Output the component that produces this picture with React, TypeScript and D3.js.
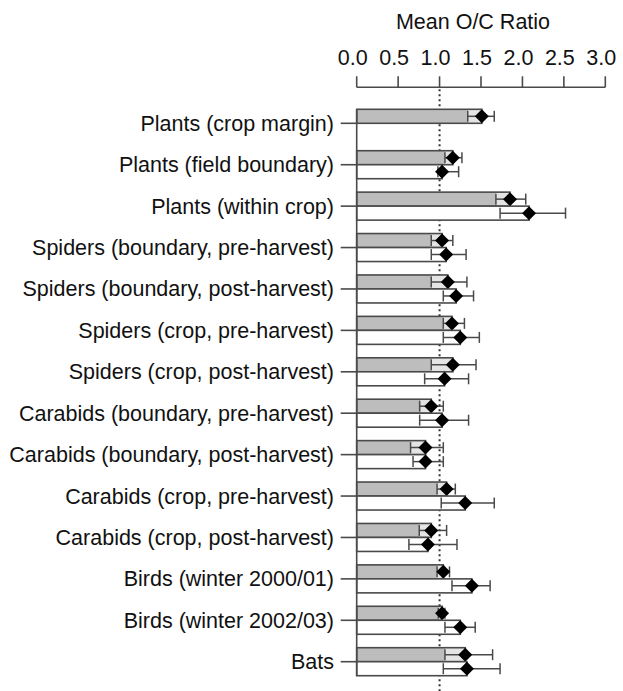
import React from "react";
import * as d3 from "d3";

// Categories, top to bottom
const categories = [
  "Plants (crop margin)",
  "Plants (field boundary)",
  "Plants (within crop)",
  "Spiders (boundary, pre-harvest)",
  "Spiders (boundary, post-harvest)",
  "Spiders (crop, pre-harvest)",
  "Spiders (crop, post-harvest)",
  "Carabids (boundary, pre-harvest)",
  "Carabids (boundary, post-harvest)",
  "Carabids (crop, pre-harvest)",
  "Carabids (crop, post-harvest)",
  "Birds (winter 2000/01)",
  "Birds (winter 2002/03)",
  "Bats",
];

// Shaded series: mean ratio with lower / upper interval bounds
const shadedMean = [1.51, 1.16, 1.85, 1.03, 1.1, 1.15, 1.16, 0.9, 0.83, 1.085, 0.9, 1.045, 1.03, 1.31];
const shadedLo = [1.34, 1.065, 1.68, 0.9, 0.9, 1.045, 0.9, 0.76, 0.65, 0.97, 0.755, 0.97, 0.985, 1.065];
const shadedHi = [1.66, 1.27, 2.04, 1.16, 1.33, 1.3, 1.44, 1.045, 1.045, 1.19, 1.085, 1.12, 1.065, 1.64];

// Open series (no value for the first category)
const openMean = [null, 1.03, 2.08, 1.08, 1.2, 1.25, 1.06, 1.03, 0.83, 1.31, 0.86, 1.39, 1.25, 1.33];
const openLo = [null, 0.98, 1.73, 0.9, 1.045, 1.045, 0.82, 0.76, 0.68, 1.02, 0.63, 1.15, 1.065, 1.045];
const openHi = [null, 1.23, 2.52, 1.32, 1.41, 1.48, 1.35, 1.35, 1.045, 1.66, 1.21, 1.61, 1.43, 1.73];

const xTicks = [0, 0.5, 1, 1.5, 2, 2.5, 3];
const axisTitle = "Mean O/C Ratio";

const W = 623;
const H = 691;
const FONT = "'Liberation Sans', Arial, Helvetica, sans-serif";
const FS = 21.5;
const LINE = "#4a4a4a";
const BAR_H = 14;

export default function App() {
  const x = d3.scaleLinear().domain([0, 3]).range([356.7, 605.3]);
  const y = d3.scalePoint<string>().domain(categories).range([123.3, 661.7]);
  const axisY = 87.3;
  const x0 = x(0);

  const diamond = (cx: number, cy: number, r = 7) =>
    `M${cx},${cy - r}L${cx + r},${cy}L${cx},${cy + r}L${cx - r},${cy}Z`;

  const renderBar = (
    key: string,
    top: number,
    mean: number,
    lo: number,
    hi: number,
    fill: string,
    inner: string
  ) => {
    const cy = top + BAR_H / 2;
    const xm = x(mean);
    const xl = x(lo);
    const xh = x(hi);
    return (
      <g key={key}>
        <rect x={x0} y={top} width={xm - x0} height={BAR_H} fill={fill} stroke="none" />
        {xl < xm && (
          <rect x={xl} y={top} width={xm - xl} height={BAR_H} fill={inner} stroke="none" />
        )}
        <rect x={x0} y={top} width={xm - x0} height={BAR_H} fill="none" stroke={LINE} strokeWidth={1.6} />
        <line x1={xl} x2={xh} y1={cy} y2={cy} stroke={LINE} strokeWidth={1.5} />
        <line x1={xl} x2={xl} y1={cy - 5.5} y2={cy + 5.5} stroke={LINE} strokeWidth={1.5} />
        <line x1={xh} x2={xh} y1={cy - 5.5} y2={cy + 5.5} stroke={LINE} strokeWidth={1.5} />
        <path d={diamond(xm, cy)} fill="#000" />
      </g>
    );
  };

  const firstTop = (y(categories[0]) as number) - BAR_H;
  const lastBottom = (y(categories[categories.length - 1]) as number) + BAR_H;

  return (
    <svg
      width={W}
      height={H}
      viewBox={`0 0 ${W} ${H}`}
      style={{ position: "absolute", left: 0, top: 0, background: "#fff" }}
      fontFamily={FONT}
    >
      <rect x={0} y={0} width={W} height={H} fill="#fff" />

      {/* Axis title */}
      <text x={473} y={29} fontSize={FS} textAnchor="middle" fill="#111">
        {axisTitle}
      </text>

      {/* Top axis */}
      <line x1={x(0)} x2={x(3)} y1={axisY} y2={axisY} stroke={LINE} strokeWidth={1.6} />
      {xTicks.map((t) => (
        <g key={t}>
          <line x1={x(t)} x2={x(t)} y1={axisY - 11} y2={axisY} stroke={LINE} strokeWidth={1.6} />
          <text x={x(t) - 4} y={65} fontSize={FS} textAnchor="middle" fill="#111">
            {t.toFixed(1)}
          </text>
        </g>
      ))}

      {/* Reference line at ratio 1 */}
      <line
        x1={x(1)}
        x2={x(1)}
        y1={axisY + 2}
        y2={H}
        stroke="#333"
        strokeWidth={2}
        strokeDasharray="2,3"
      />

      {/* Bars */}
      {categories.map((c, i) => {
        const ty = y(c) as number;
        const els = [
          renderBar(`s${i}`, ty - BAR_H, shadedMean[i], shadedLo[i], shadedHi[i], "#bdbdbd", "#e4e4e4"),
        ];
        const om = openMean[i];
        if (om != null) {
          els.push(
            renderBar(`o${i}`, ty, om, openLo[i] as number, openHi[i] as number, "#fff", "#fff")
          );
        }
        return <g key={c}>{els}</g>;
      })}

      {/* Left axis line */}
      <line x1={x0} x2={x0} y1={firstTop} y2={lastBottom} stroke={LINE} strokeWidth={1.6} />

      {/* Category ticks and labels */}
      {categories.map((c) => {
        const ty = y(c) as number;
        return (
          <g key={`l-${c}`}>
            <line x1={x0 - 16} x2={x0} y1={ty} y2={ty} stroke={LINE} strokeWidth={1.6} />
            <text x={334} y={ty + 7.5} fontSize={FS} textAnchor="end" fill="#111">
              {c}
            </text>
          </g>
        );
      })}
    </svg>
  );
}
